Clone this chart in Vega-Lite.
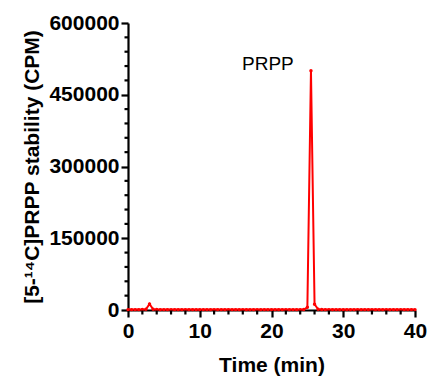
{
  "$schema": "https://vega.github.io/schema/vega-lite/v6.json",
  "width": 287,
  "height": 287,
  "autosize": {"type": "none"},
  "padding": {"left": 128, "top": 23, "right": 15, "bottom": 69},
  "background": "white",
  "config": {
    "view": {"stroke": null},
    "font": "Liberation Sans",
    "axis": {"grid": false, "domainColor": "black", "tickColor": "black", "domainWidth": 2.2, "tickWidth": 2.2, "labelColor": "black", "titleColor": "black", "labelFont": "Liberation Sans", "titleFont": "Liberation Sans", "labelFontWeight": "bold", "titleFontWeight": "bold", "labelFontSize": 21, "titleFontSize": 21, "labelOverlap": false}
  },
  "datasets": {
    "trace": [
      {"t": 0, "cpm": 800}, {"t": 0.5, "cpm": 800}, {"t": 1, "cpm": 800}, {"t": 1.5, "cpm": 800},
      {"t": 2, "cpm": 900}, {"t": 2.5, "cpm": 1500}, {"t": 3, "cpm": 12500}, {"t": 3.5, "cpm": 1500},
      {"t": 4, "cpm": 900}, {"t": 4.5, "cpm": 800}, {"t": 5, "cpm": 800}, {"t": 5.5, "cpm": 800},
      {"t": 6, "cpm": 800}, {"t": 6.5, "cpm": 800}, {"t": 7, "cpm": 800}, {"t": 7.5, "cpm": 800},
      {"t": 8, "cpm": 800}, {"t": 8.5, "cpm": 800}, {"t": 9, "cpm": 800}, {"t": 9.5, "cpm": 800},
      {"t": 10, "cpm": 800}, {"t": 10.5, "cpm": 800}, {"t": 11, "cpm": 800}, {"t": 11.5, "cpm": 800},
      {"t": 12, "cpm": 800}, {"t": 12.5, "cpm": 800}, {"t": 13, "cpm": 800}, {"t": 13.5, "cpm": 800},
      {"t": 14, "cpm": 800}, {"t": 14.5, "cpm": 800}, {"t": 15, "cpm": 800}, {"t": 15.5, "cpm": 800},
      {"t": 16, "cpm": 800}, {"t": 16.5, "cpm": 800}, {"t": 17, "cpm": 800}, {"t": 17.5, "cpm": 800},
      {"t": 18, "cpm": 800}, {"t": 18.5, "cpm": 800}, {"t": 19, "cpm": 800}, {"t": 19.5, "cpm": 800},
      {"t": 20, "cpm": 800}, {"t": 20.5, "cpm": 800}, {"t": 21, "cpm": 800}, {"t": 21.5, "cpm": 800},
      {"t": 22, "cpm": 800}, {"t": 22.5, "cpm": 800}, {"t": 23, "cpm": 800}, {"t": 23.5, "cpm": 800},
      {"t": 24, "cpm": 800}, {"t": 24.5, "cpm": 1000}, {"t": 25, "cpm": 5600}, {"t": 25.5, "cpm": 500000},
      {"t": 26, "cpm": 12000}, {"t": 26.5, "cpm": 1500}, {"t": 27, "cpm": 900}, {"t": 27.5, "cpm": 800},
      {"t": 28, "cpm": 800}, {"t": 28.5, "cpm": 800}, {"t": 29, "cpm": 800}, {"t": 29.5, "cpm": 800},
      {"t": 30, "cpm": 800}, {"t": 30.5, "cpm": 800}, {"t": 31, "cpm": 800}, {"t": 31.5, "cpm": 800},
      {"t": 32, "cpm": 800}, {"t": 32.5, "cpm": 800}, {"t": 33, "cpm": 800}, {"t": 33.5, "cpm": 800},
      {"t": 34, "cpm": 800}, {"t": 34.5, "cpm": 800}, {"t": 35, "cpm": 800}, {"t": 35.5, "cpm": 800},
      {"t": 36, "cpm": 800}, {"t": 36.5, "cpm": 800}, {"t": 37, "cpm": 800}, {"t": 37.5, "cpm": 800},
      {"t": 38, "cpm": 800}, {"t": 38.5, "cpm": 800}, {"t": 39, "cpm": 800}, {"t": 39.5, "cpm": 800},
      {"t": 40, "cpm": 800}
    ],
    "labels": [{"t": 19.5, "cpm": 515000, "label": "PRPP"}],
    "xminor": [{"t": 2}, {"t": 4}, {"t": 6}, {"t": 8}, {"t": 12}, {"t": 14}, {"t": 16}, {"t": 18}, {"t": 22}, {"t": 24}, {"t": 26}, {"t": 28}, {"t": 32}, {"t": 34}, {"t": 36}, {"t": 38}],
    "yminor": [{"cpm": 30000}, {"cpm": 60000}, {"cpm": 90000}, {"cpm": 120000}, {"cpm": 180000}, {"cpm": 210000}, {"cpm": 240000}, {"cpm": 270000}, {"cpm": 330000}, {"cpm": 360000}, {"cpm": 390000}, {"cpm": 420000}, {"cpm": 480000}, {"cpm": 510000}, {"cpm": 540000}, {"cpm": 570000}]
  },
  "layer": [
    {
      "data": {"name": "trace"},
      "mark": {"type": "line", "color": "#ff0000", "strokeWidth": 2, "clip": false, "point": {"filled": true, "size": 12, "color": "#ff0000"}},
      "encoding": {
        "x": {"field": "t", "type": "quantitative", "scale": {"domain": [0, 40], "nice": false, "zero": false},
          "axis": {"title": "Time (min)", "values": [0, 10, 20, 30, 40], "tickSize": 7, "labelPadding": 3, "titlePadding": 13, "labelFlush": false}},
        "y": {"field": "cpm", "type": "quantitative", "scale": {"domain": [0, 600000], "nice": false},
          "axis": {"title": "[5-¹⁴C]PRPP stability (CPM)", "values": [0, 150000, 300000, 450000, 600000], "format": "d", "tickSize": 7, "labelPadding": 2, "titlePadding": 6, "labelFlush": false}}
      }
    },
    {
      "data": {"name": "xminor"},
      "mark": {"type": "tick", "orient": "vertical", "size": 4, "thickness": 2.2, "color": "black", "opacity": 1, "yOffset": 2.5},
      "encoding": {
        "x": {"field": "t", "type": "quantitative"},
        "y": {"datum": 0, "type": "quantitative"}
      }
    },
    {
      "data": {"name": "yminor"},
      "mark": {"type": "tick", "orient": "horizontal", "size": 4, "thickness": 2.2, "color": "black", "opacity": 1, "xOffset": -1.5},
      "encoding": {
        "x": {"datum": 0, "type": "quantitative"},
        "y": {"field": "cpm", "type": "quantitative"}
      }
    },
    {
      "data": {"name": "labels"},
      "mark": {"type": "text", "font": "Liberation Sans", "fontSize": 19, "color": "black"},
      "encoding": {
        "x": {"field": "t", "type": "quantitative"},
        "y": {"field": "cpm", "type": "quantitative"},
        "text": {"field": "label"}
      }
    }
  ]
}
